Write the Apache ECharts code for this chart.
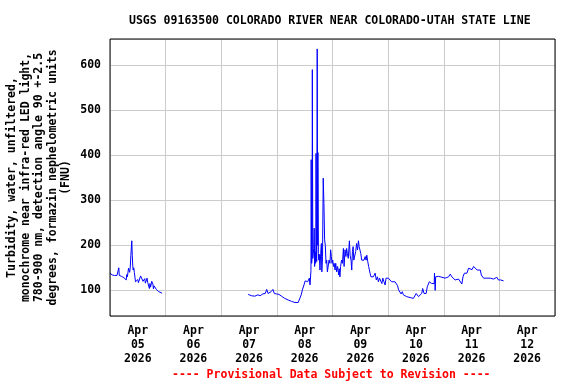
<!DOCTYPE html>
<html>
<head>
<meta charset="utf-8">
<script src="https://cdn.jsdelivr.net/npm/echarts@6/dist/echarts.min.js"></script>
<style>
html,body{margin:0;padding:0;background:#fff;}
#chart{width:576px;height:384px;}
</style>
</head>
<body>
<div id="chart"></div>
<script>
// Hours since 2026-04-05 00:00 and turbidity (FNU)
var seg1Hours = [0.0,0.5,1.0,1.5,2.0,2.5,3.0,3.5,3.8,4.0,4.5,5.0,5.5,6.0,6.5,7.0,7.25,7.5,8.0,8.5,8.75,9.0,9.25,9.4,9.6,9.8,10.0,10.25,10.5,11.0,11.5,12.0,12.25,12.5,12.75,13.2,13.5,14.0,14.25,14.5,15.0,15.25,15.6,16.0,16.25,16.5,17.0,17.25,17.5,18.0,18.5,18.75,19.0,19.5,20.0,20.5,21.0,21.5,22.0,22.5,22.8];
var seg1Values = [138,135,134,133,133,136,133,133,150,133,132,131,131,128,126,123,135,130,149,140,152,178,178,210,178,156,145,150,140,119,117,124,117,120,116,132,130,131,120,118,126,116,117,127,118,122,104,115,107,120,114,103,110,107,102,103,97,100,95,93,93];
var seg2Hours = [59.6,60.3,61.0,61.7,62.5,63.2,63.8,64.3,64.8,65.4,65.9,66.4,67.0,67.6,68.2,68.9,69.5,70.3,70.9,71.4,71.9,72.4,72.9,73.5,74.0,74.7,75.4,76.1,76.9,77.6,78.3,79.0,79.8,80.5,81.2,82.0,82.5,83.0,83.7,84.2,84.9,85.3,85.6,86.0,86.3,86.5,86.7,86.8,87.0,87.2,87.3,87.5,87.7,87.9,88.1,88.3,88.5,88.7,88.8,88.9,89.1,89.2,89.4,89.6,89.7,89.9,90.1,90.3,90.6,90.9,91.2,91.4,91.7,92.0,92.3,92.6,92.9,93.2,93.5,93.8,94.2,94.5,94.9,95.2,95.5,95.8,96.1,96.4,96.7,97.1,97.4,97.8,98.2,98.7,98.9,99.2,99.5,99.9,100.3,100.7,101.0,101.4,101.8,102.1,102.4,102.8,103.3,103.6,104.0,104.3,104.6,104.9,105.2,105.6,106.0,106.4,106.8,107.2,107.5,107.8,108.2,108.6,109.1,109.6,110.1,110.5,110.8,111.2,111.6,112.2,112.6,113.1,113.6,114.0,114.4,114.9,115.4,115.8,116.3,116.8,117.3,117.7,118.2,118.7,119.1,119.6,120.1,120.8,121.5,122.3,123.0,123.7,124.1,124.5,125.2,125.6,126.1,126.6,127.3,128.0,128.8,129.5,130.2,130.9,131.6,132.1,132.6,133.1,133.8,134.5,134.9,135.5,135.9,136.4,136.9,137.4,137.8,138.4,138.8,139.4,139.9,140.0,140.3,140.5,141.0,141.8,142.5,143.2,143.9,144.6,145.3,146.1,146.8,147.5,148.2,148.9,149.7,150.4,151.1,151.8,152.3,152.9,153.3,154.0,154.7,155.5,156.2,156.9,157.6,158.4,159.1,159.8,160.2,160.6,161.2,161.9,162.6,163.4,164.1,164.8,165.5,166.2,166.9,167.6,168.1,168.6,169.2,169.8];
var seg2Values = [91,87,88,88,87,88,90,92,88,91,92,88,93,102,93,96,97,102,93,94,92,91,91,89,87,85,82,80,78.5,76,75.5,74,73,73,73,76,90,101,112,121,123,119,116,127,112,113,144,390,160,175,590,171,175,193,238,153,186,160,165,404,170,164,636,200,406,182,167,180,145,182,204,141,175,349,293,212,200,160,167,141,141,167,160,190,175,160,167,153,160,145,160,141,153,134,148,130,153,167,160,193,153,190,175,193,182,171,210,178,167,145,186,197,167,171,186,204,190,210,197,201,182,167,171,167,175,167,178,164,153,138,130,134,130,127,138,123,130,119,127,123,115,127,119,112,127,123,127,123,119,123,119,115,110,101,97,92,97,90,90,86,86,84,86,82,84,93,90,86,90,93,104,93,97,93,108,104,119,119,115,119,115,138,100,130,130,131,130,129,130,127,127,130,136,130,127,123,127,125,125,114,130,138,140,138,149,151,146,153,151,145,141,145,134,130,127,127,127,125,127,127,125,127,129,123,119,123,119,121];
var dayLabels = ['Apr\n05\n2026','Apr\n06\n2026','Apr\n07\n2026','Apr\n08\n2026','Apr\n09\n2026','Apr\n10\n2026','Apr\n11\n2026','Apr\n12\n2026'];
var titleText = 'USGS 09163500 COLORADO RIVER NEAR COLORADO-UTAH STATE LINE';
var yAxisTitle = 'Turbidity, water, unfiltered,\nmonochrome near infra-red LED light,\n780-900 nm, detection angle 90 +-2.5\ndegrees, formazin nephelometric units\n(FNU)';
var footerText = '---- Provisional Data Subject to Revision ----';

var data = [];
seg1Hours.forEach(function(h, i){ data.push([h, seg1Values[i]]); });
data.push([41, null]);
seg2Hours.forEach(function(h, i){ data.push([h, seg2Values[i]]); });

var FONT = 'DejaVu Sans Mono';
var chart = echarts.init(document.getElementById('chart'), null, {renderer: 'canvas'});
chart.setOption({
  animation: false,
  backgroundColor: '#ffffff',
  title: [{
    text: titleText, left: 129, top: 15, padding: 0,
    textStyle: {fontFamily: FONT, fontWeight: 'bold', fontSize: 11.5, color: '#000'}
  }, {
    text: footerText, left: 172, top: 369, padding: 0,
    textStyle: {fontFamily: FONT, fontWeight: 'bold', fontSize: 11.5, color: '#ff0000'}
  }],
  grid: {left: 110, right: 21, top: 39, bottom: 68, show: true, borderColor: '#000', borderWidth: 1, backgroundColor: 'transparent', z: 10, containLabel: false, outerBoundsMode: 'none'},
  xAxis: [{
    type: 'value', min: 0, max: 192, interval: 24,
    axisLine: {show: false}, axisTick: {show: false}, axisLabel: {show: false},
    splitLine: {show: true, lineStyle: {color: '#cccccc', width: 1}}
  }, {
    type: 'value', min: 0, max: 192, interval: 12, position: 'bottom',
    axisLine: {show: false}, axisTick: {show: false}, splitLine: {show: false},
    axisLabel: {
      show: true, margin: 8, lineHeight: 14, align: 'center',
      fontFamily: FONT, fontWeight: 'bold', fontSize: 11.5, color: '#000',
      formatter: function(v){ return (v % 24 === 12) ? dayLabels[Math.floor(v / 24)] : ''; }
    }
  }],
  yAxis: {
    type: 'value', min: 43, max: 658, splitNumber: 6,
    name: yAxisTitle, nameLocation: 'middle', nameRotate: 90, nameGap: 37, nameMoveOverlap: false,
    nameTextStyle: {fontFamily: FONT, fontWeight: 'bold', fontSize: 11.5, color: '#000', lineHeight: 13.5, align: 'center'},
    axisLine: {show: false}, axisTick: {show: false},
    axisLabel: {margin: 9, fontFamily: FONT, fontWeight: 'bold', fontSize: 11.5, color: '#000', showMinLabel: false, showMaxLabel: false},
    splitLine: {show: true, lineStyle: {color: '#cccccc', width: 1}}
  },
  series: [{
    type: 'line', xAxisIndex: 0, data: data, showSymbol: false, symbol: 'none',
    connectNulls: false, sampling: null,
    lineStyle: {color: '#0000ff', width: 1}
  }]
});
</script>
</body>
</html>
